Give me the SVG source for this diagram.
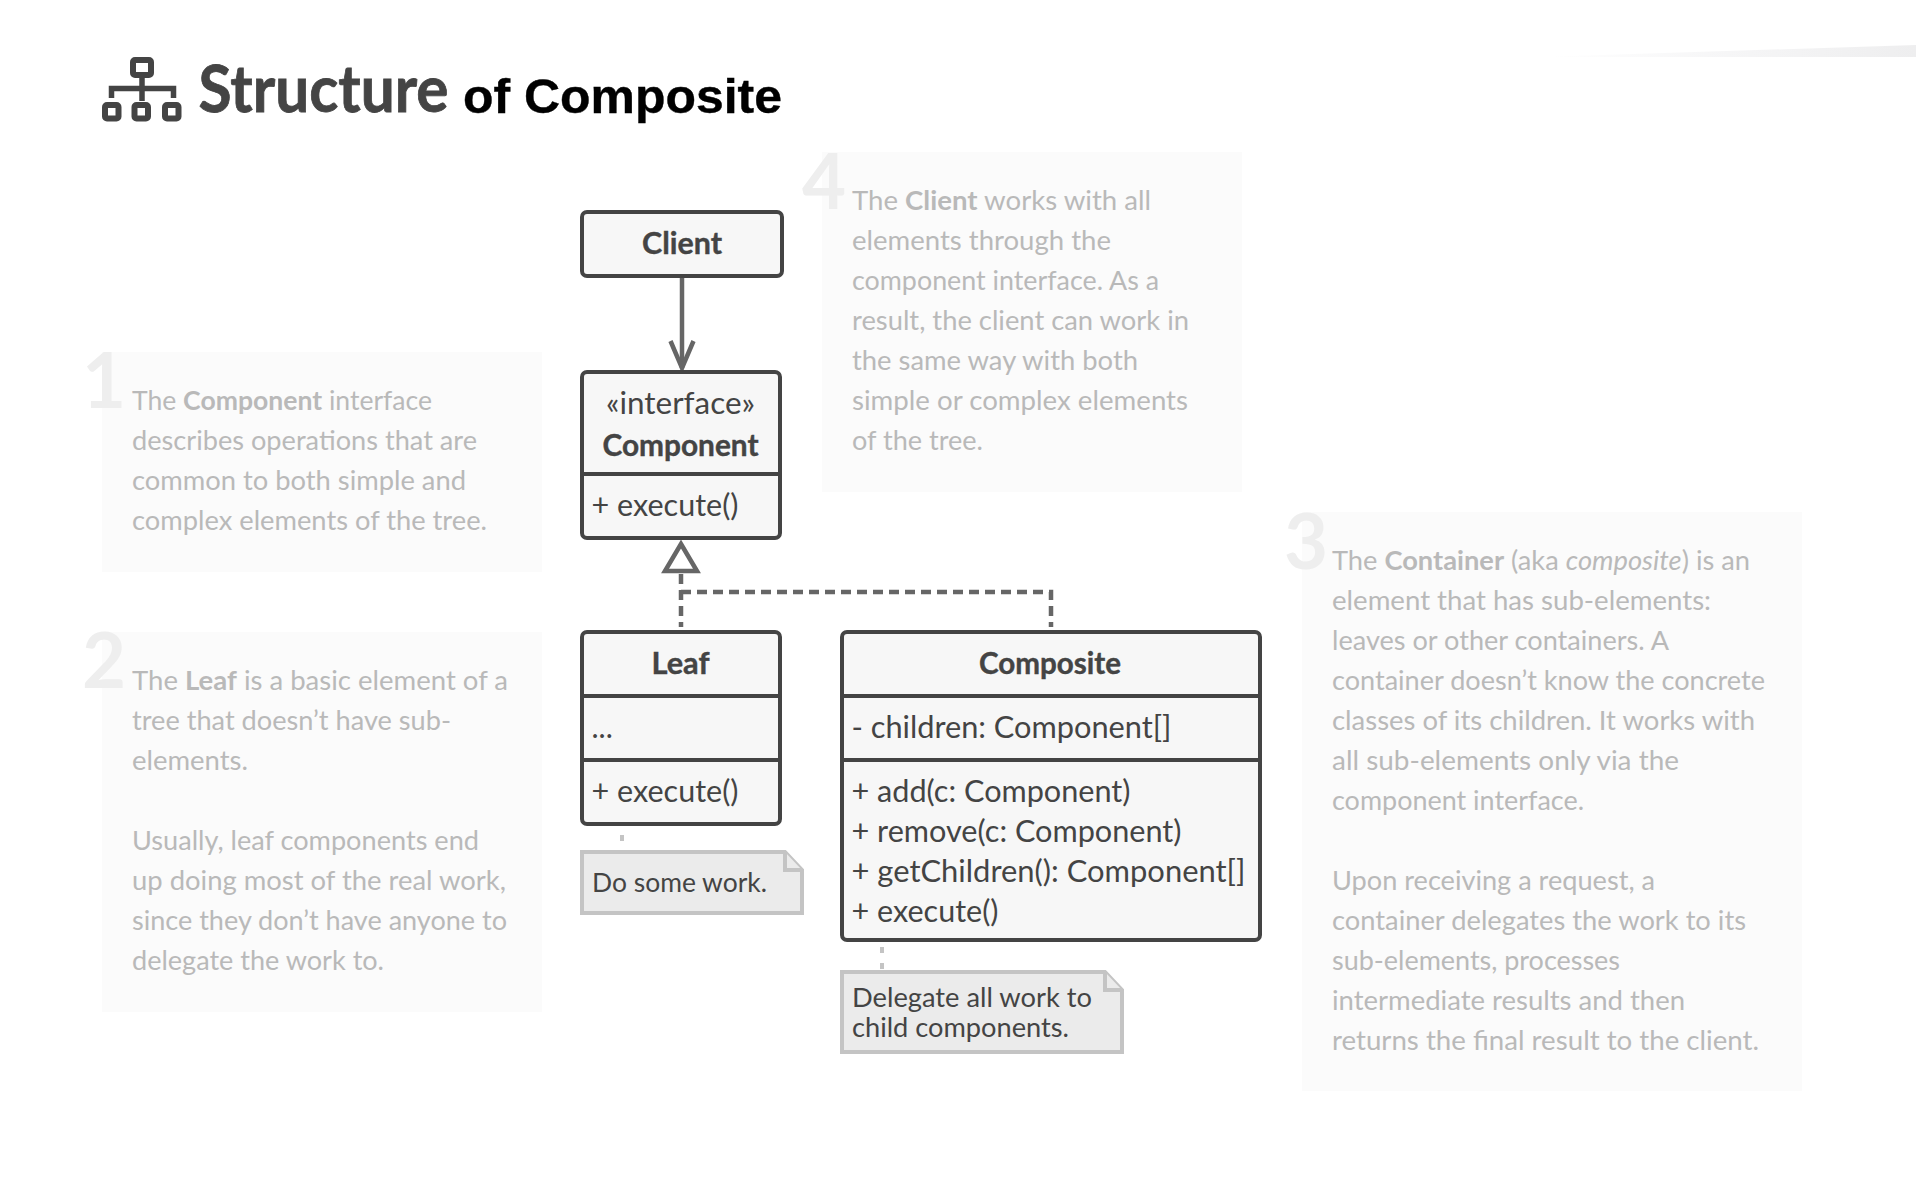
<svg xmlns="http://www.w3.org/2000/svg" width="1916" height="1188" viewBox="0 0 1916 1188">
<defs>
<linearGradient id="sw" x1="0" x2="1" y1="0" y2="0"><stop offset="0" stop-color="#fff"/><stop offset="0.5" stop-color="#f6f6f7"/><stop offset="1" stop-color="#eeeeef"/></linearGradient>
<marker id="open" markerUnits="userSpaceOnUse" markerWidth="32" markerHeight="40" refX="28" refY="16" orient="auto"><path d="M1 4.500L28 16L1 27.500" fill="none" stroke="#666" stroke-width="4.500"/></marker>
</defs>
<style>
text{font-family:Lato,"Noto Sans",sans-serif}
.panel{fill:#fbfbfb}
.num{font-weight:700;font-size:76px;fill:#eee}
.desc{font-size:27.500px;fill:#b9b9b9}
.box{fill:#f7f7f7;stroke:#444;stroke-width:4}
.div{stroke:#444;stroke-width:4;fill:none}
.t{font-size:30px;fill:#444}
.tb{font-size:30px;font-weight:700;fill:#444;text-anchor:middle;stroke:#444;stroke-width:.4}
.note{fill:#ebebeb;stroke:#c4c4c4;stroke-width:4}
.n{font-size:27.500px;fill:#444}
.c{fill:none;stroke:#666;stroke-width:4.500}
.d{stroke-dasharray:10 6}
.nc{fill:none;stroke:#c4c4c4;stroke-width:4;stroke-dasharray:6 10}
</style>
<rect width="1916" height="1188" fill="#fff"/>
<polygon points="1540,57 1916,45 1916,57" fill="url(#sw)"/>
<g id="title">
<g fill="none" stroke="#444" stroke-width="6">
<rect x="133" y="60" width="18" height="15" rx="2"/>
<rect x="105" y="105" width="13.500" height="13.500" rx="2"/>
<rect x="134.500" y="105" width="13.500" height="13.500" rx="2"/>
<rect x="165" y="105" width="13.500" height="13.500" rx="2"/>
<path d="M142 77V101M111.500 98V88.500H173.500V98" stroke-width="5.500"/>
</g>
<text x="198.500" y="112" font-size="65" font-weight="700" fill="#444" stroke="#444" stroke-width=".8" textLength="250" lengthAdjust="spacingAndGlyphs">Structure</text>
<text x="463" y="113" font-size="49" font-weight="700" fill="#000" stroke="#000" stroke-width=".4" style="font-family:'Liberation Sans',sans-serif" textLength="319" lengthAdjust="spacingAndGlyphs">of Composite</text>
</g>
<g id="note1">
<rect class="panel" x="102" y="352" width="440" height="220"/>
<text class="num" x="82" y="408">1</text>
<g class="desc">
<text x="132" y="410" textLength="300" lengthAdjust="spacingAndGlyphs">The <tspan font-weight="700">Component</tspan> interface</text>
<text x="132" y="450" textLength="345" lengthAdjust="spacingAndGlyphs">describes operations that are</text>
<text x="132" y="490" textLength="334" lengthAdjust="spacingAndGlyphs">common to both simple and</text>
<text x="132" y="530" textLength="355" lengthAdjust="spacingAndGlyphs">complex elements of the tree.</text>
</g>
</g>
<g id="note2">
<rect class="panel" x="102" y="632" width="440" height="380"/>
<text class="num" x="82" y="688">2</text>
<g class="desc">
<text x="132" y="690" textLength="376" lengthAdjust="spacingAndGlyphs">The <tspan font-weight="700">Leaf</tspan> is a basic element of a</text>
<text x="132" y="730" textLength="319" lengthAdjust="spacingAndGlyphs">tree that doesn’t have sub-</text>
<text x="132" y="770" textLength="116" lengthAdjust="spacingAndGlyphs">elements.</text>
<text x="132" y="850" textLength="347" lengthAdjust="spacingAndGlyphs">Usually, leaf components end</text>
<text x="132" y="890" textLength="374" lengthAdjust="spacingAndGlyphs">up doing most of the real work,</text>
<text x="132" y="930" textLength="375" lengthAdjust="spacingAndGlyphs">since they don’t have anyone to</text>
<text x="132" y="970" textLength="252" lengthAdjust="spacingAndGlyphs">delegate the work to.</text>
</g>
</g>
<g id="note4">
<rect class="panel" x="822" y="152" width="420" height="340"/>
<text class="num" x="802" y="209">4</text>
<g class="desc">
<text x="852" y="210" textLength="299" lengthAdjust="spacingAndGlyphs">The <tspan font-weight="700">Client</tspan> works with all</text>
<text x="852" y="250" textLength="259" lengthAdjust="spacingAndGlyphs">elements through the</text>
<text x="852" y="290" textLength="307" lengthAdjust="spacingAndGlyphs">component interface. As a</text>
<text x="852" y="330" textLength="337" lengthAdjust="spacingAndGlyphs">result, the client can work in</text>
<text x="852" y="370" textLength="286" lengthAdjust="spacingAndGlyphs">the same way with both</text>
<text x="852" y="410" textLength="336" lengthAdjust="spacingAndGlyphs">simple or complex elements</text>
<text x="852" y="450" textLength="131" lengthAdjust="spacingAndGlyphs">of the tree.</text>
</g>
</g>
<g id="note3">
<rect class="panel" x="1302" y="512" width="500" height="579"/>
<text class="num" x="1284" y="569">3</text>
<g class="desc">
<text x="1332" y="570" textLength="418" lengthAdjust="spacingAndGlyphs">The <tspan font-weight="700">Container</tspan> (aka <tspan font-style="italic">composite</tspan>) is an</text>
<text x="1332" y="610" textLength="379" lengthAdjust="spacingAndGlyphs">element that has sub-elements:</text>
<text x="1332" y="650" textLength="337" lengthAdjust="spacingAndGlyphs">leaves or other containers. A</text>
<text x="1332" y="690" textLength="433" lengthAdjust="spacingAndGlyphs">container doesn’t know the concrete</text>
<text x="1332" y="730" textLength="423" lengthAdjust="spacingAndGlyphs">classes of its children. It works with</text>
<text x="1332" y="770" textLength="347" lengthAdjust="spacingAndGlyphs">all sub-elements only via the</text>
<text x="1332" y="810" textLength="252" lengthAdjust="spacingAndGlyphs">component interface.</text>
<text x="1332" y="890" textLength="323" lengthAdjust="spacingAndGlyphs">Upon receiving a request, a</text>
<text x="1332" y="930" textLength="414" lengthAdjust="spacingAndGlyphs">container delegates the work to its</text>
<text x="1332" y="970" textLength="288" lengthAdjust="spacingAndGlyphs">sub-elements, processes</text>
<text x="1332" y="1010" textLength="353" lengthAdjust="spacingAndGlyphs">intermediate results and then</text>
<text x="1332" y="1050" textLength="427" lengthAdjust="spacingAndGlyphs">returns the final result to the client.</text>
</g>
</g>
<g id="connectors">
<line class="c" x1="682" y1="277" x2="682" y2="368" marker-end="url(#open)"/>
<path class="c d" d="M681 574V627"/>
<path class="c d" d="M681 592H1051V627"/>
<polygon points="681,544 697,571 665,571" fill="#fff" stroke="#666" stroke-width="4.500"/>
<path class="nc" d="M622 835V850"/>
<path class="nc" d="M882 947V970"/>
</g>
<g id="client">
<rect class="box" x="582" y="212" width="200" height="64" rx="5"/>
<text class="tb" x="682" y="254" textLength="80" lengthAdjust="spacingAndGlyphs">Client</text>
</g>
<g id="component">
<rect class="box" x="582" y="372" width="198" height="166" rx="5"/>
<path class="div" d="M582 474H780"/>
<text class="t" x="680.500" y="414" text-anchor="middle" textLength="149" lengthAdjust="spacingAndGlyphs">«interface»</text>
<text class="tb" x="680.500" y="456" textLength="156" lengthAdjust="spacingAndGlyphs">Component</text>
<text class="t" x="591.500" y="516" textLength="147" lengthAdjust="spacingAndGlyphs">+ execute()</text>
</g>
<g id="leaf">
<rect class="box" x="582" y="632" width="198" height="192" rx="5"/>
<path class="div" d="M582 696H780M582 760H780"/>
<text class="tb" x="680.500" y="674" textLength="58" lengthAdjust="spacingAndGlyphs">Leaf</text>
<text class="t" x="591.500" y="738">...</text>
<text class="t" x="591.500" y="802" textLength="147" lengthAdjust="spacingAndGlyphs">+ execute()</text>
</g>
<g id="composite">
<rect class="box" x="842" y="632" width="418" height="308" rx="5"/>
<path class="div" d="M842 696H1260M842 760H1260"/>
<text class="tb" x="1050" y="674" textLength="142" lengthAdjust="spacingAndGlyphs">Composite</text>
<text class="t" x="851.500" y="738" textLength="320" lengthAdjust="spacingAndGlyphs">- children: Component[]</text>
<text class="t" x="851.500" y="802" textLength="279" lengthAdjust="spacingAndGlyphs">+ add(c: Component)</text>
<text class="t" x="851.500" y="842" textLength="330" lengthAdjust="spacingAndGlyphs">+ remove(c: Component)</text>
<text class="t" x="851.500" y="882" textLength="394" lengthAdjust="spacingAndGlyphs">+ getChildren(): Component[]</text>
<text class="t" x="851.500" y="922" textLength="147" lengthAdjust="spacingAndGlyphs">+ execute()</text>
</g>
<g id="note-leaf">
<path class="note" d="M582 852H785L802 870V913H582Z"/>
<path class="note" d="M785 852V870H802"/>
<text class="n" x="592" y="892" textLength="175" lengthAdjust="spacingAndGlyphs">Do some work.</text>
</g>
<g id="note-composite">
<path class="note" d="M842 972H1105L1122 990V1052H842Z"/>
<path class="note" d="M1105 972V990H1122"/>
<text class="n" x="852" y="1007" textLength="240" lengthAdjust="spacingAndGlyphs">Delegate all work to</text>
<text class="n" x="852" y="1037" textLength="217" lengthAdjust="spacingAndGlyphs">child components.</text>
</g>
</svg>
